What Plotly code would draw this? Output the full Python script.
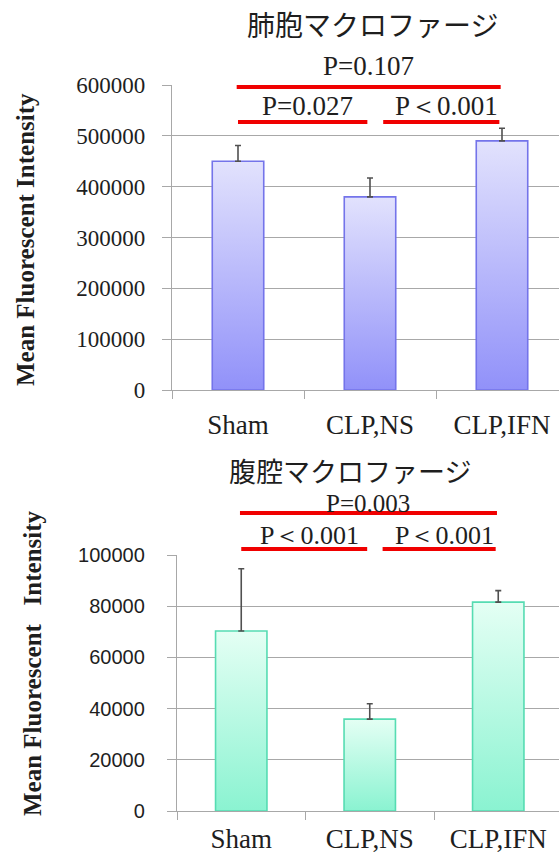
import plotly.graph_objects as go

# ---- data -------------------------------------------------------------
categories = ["Sham", "CLP,NS", "CLP,IFN"]

alveolar_mfi = [450000, 380000, 490000]
alveolar_err = [31000, 37000, 25000]
alveolar_ticks = [0, 100000, 200000, 300000, 400000, 500000, 600000]
alveolar_tests = [(0, 2, "P=0.107"), (0, 1, "P=0.027"), (1, 2, "P＜0.001")]

peritoneal_mfi = [70300, 35900, 81600]
peritoneal_err = [24300, 6000, 4500]
peritoneal_ticks = [0, 20000, 40000, 60000, 80000, 100000]
peritoneal_tests = [(0, 2, "P=0.003"), (0, 1, "P＜0.001"), (1, 2, "P＜0.001")]

# ---- page geometry helpers ----------------------------------------------
W, H = 559, 856


def py(p):
    return 1 - p / H


def px(p):
    return p / W


SERIF = "Liberation Serif, Times New Roman, serif"
SANS = "Liberation Sans, Arial, sans-serif"
CJK = "Noto Sans CJK JP, sans-serif"
TXT = "#1e1e1e"
GRID = "#a8a8a8"
RED = "#f00000"

fig = go.Figure()


def add_panel(n, values, errs, half, top_col, bot_col, edge):
    xa = "x" if n == 1 else f"x{n}"
    ya = "y" if n == 1 else f"y{n}"
    for i, v in enumerate(values):
        fig.add_trace(go.Scatter(
            x=[i - half, i + half, i + half, i - half, i - half],
            y=[0, 0, v, v, 0],
            mode="lines", fill="toself",
            fillgradient=dict(type="vertical", start=0, stop=v,
                              colorscale=[[0, bot_col], [1, top_col]]),
            line=dict(color=edge, width=1.6),
            xaxis=xa, yaxis=ya, showlegend=False, hoverinfo="skip"))
    fig.add_trace(go.Scatter(
        x=list(range(len(values))), y=values, mode="markers",
        marker=dict(size=1, color="rgba(0,0,0,0)"),
        error_y=dict(type="data", array=errs, arrayminus=[0] * len(errs),
                     symmetric=False, color="#505050", thickness=1.6, width=3),
        xaxis=xa, yaxis=ya, showlegend=False, hoverinfo="skip"))


add_panel(1, alveolar_mfi, alveolar_err, 0.195, "#e2e2fd", "#9191f9", "#7474ea")
add_panel(2, peritoneal_mfi, peritoneal_err, 0.2, "#e4fff4", "#8af3d1", "#56dcb2")


def span(i, j):
    if j - i > 1:
        return i - 0.01, j - 0.01
    return i + 0.1 * i, j - 0.02


shapes, annots = [], []


def add_tests(xa, tests, wide_line, near_line, wide_txt, near_txt, wide_size, near_size):
    for i, j, label in tests:
        x0, x1 = span(i, j)
        wide = j - i > 1
        ly = wide_line if wide else near_line
        ty = wide_txt if wide else near_txt
        shapes.append(dict(type="line", xref=xa, yref="paper",
                           x0=x0, x1=x1, y0=py(ly), y1=py(ly),
                           line=dict(color=RED, width=4)))
        annots.append(dict(xref=xa, yref="paper", x=(x0 + x1) / 2 + (0 if wide else 0.04),
                           y=py(ty), text=label, showarrow=False,
                           xanchor="center", yanchor="middle",
                           font=dict(family=SERIF, size=wide_size if wide else near_size,
                                     color=TXT)))


add_tests("x", alveolar_tests, 87, 122, 66, 106, 27, 27)
add_tests("x2", peritoneal_tests, 513, 549, 503, 535, 25, 26)

# panel titles
annots.append(dict(xref="paper", yref="paper", x=px(372), y=py(24), text="肺胞マクロファージ",
                   showarrow=False, xanchor="center", yanchor="middle",
                   font=dict(family=CJK, size=28, color=TXT)))
annots.append(dict(xref="paper", yref="paper", x=px(350), y=py(470), text="腹腔マクロファージ",
                   showarrow=False, xanchor="center", yanchor="middle",
                   font=dict(family=CJK, size=27, color=TXT)))

# y-axis titles
annots.append(dict(xref="paper", yref="paper", x=px(25), y=py(240),
                   text="Mean Fluorescent Intensity", textangle=-90, showarrow=False,
                   xanchor="center", yanchor="middle",
                   font=dict(family=SERIF, size=25, color=TXT, weight="bold")))
annots.append(dict(xref="paper", yref="paper", x=px(32), y=py(663),
                   text="Mean Fluorescent\u00a0\u00a0\u00a0Intensity", textangle=-90,
                   showarrow=False, xanchor="center", yanchor="middle",
                   font=dict(family=SERIF, size=25, color=TXT, weight="bold")))

xcommon = dict(type="linear", tickvals=list(range(len(categories))), ticktext=categories,
               showline=True, linecolor=GRID, linewidth=1.3, ticks="",
               minor=dict(tick0=0.5, dtick=1, ticks="outside", ticklen=8,
                          tickcolor=GRID, tickwidth=1.3, showgrid=False),
               showgrid=False, zeroline=False, automargin=False,
               tickfont=dict(family=SERIF, size=27, color=TXT))
ycommon = dict(showline=True, linecolor=GRID, linewidth=1.3,
               ticks="outside", ticklen=9, tickcolor=GRID, tickwidth=1.3,
               showgrid=True, gridcolor=GRID, gridwidth=1.3, zeroline=False,
               automargin=False)

fig.update_layout(
    width=W, height=H, margin=dict(l=0, r=0, t=0, b=0, pad=0, autoexpand=False),
    paper_bgcolor="white", plot_bgcolor="white", showlegend=False,
    xaxis=dict(xcommon, domain=[px(172), 1], range=[-0.5, -0.5 + (W - 172) / 132],
               anchor="y", ticklabelstandoff=10),
    yaxis=dict(ycommon, domain=[py(390), py(85)], range=[0, 600000],
               tickvals=alveolar_ticks, ticktext=[str(t) for t in alveolar_ticks],
               tickfont=dict(family=SERIF, size=23, color=TXT),
               ticklabelstandoff=12, anchor="x"),
    xaxis2=dict(xcommon, domain=[px(177), 1], range=[-0.5, -0.5 + (W - 177) / 128.5],
                anchor="y2", ticklabelstandoff=3),
    yaxis2=dict(ycommon, domain=[py(811), py(555)], range=[0, 100000],
                tickvals=peritoneal_ticks, ticktext=[str(t) for t in peritoneal_ticks],
                tickfont=dict(family=SANS, size=20, color=TXT),
                ticklabelstandoff=18, anchor="x2"),
    shapes=shapes, annotations=annots,
)

fig.write_html("out.html")
